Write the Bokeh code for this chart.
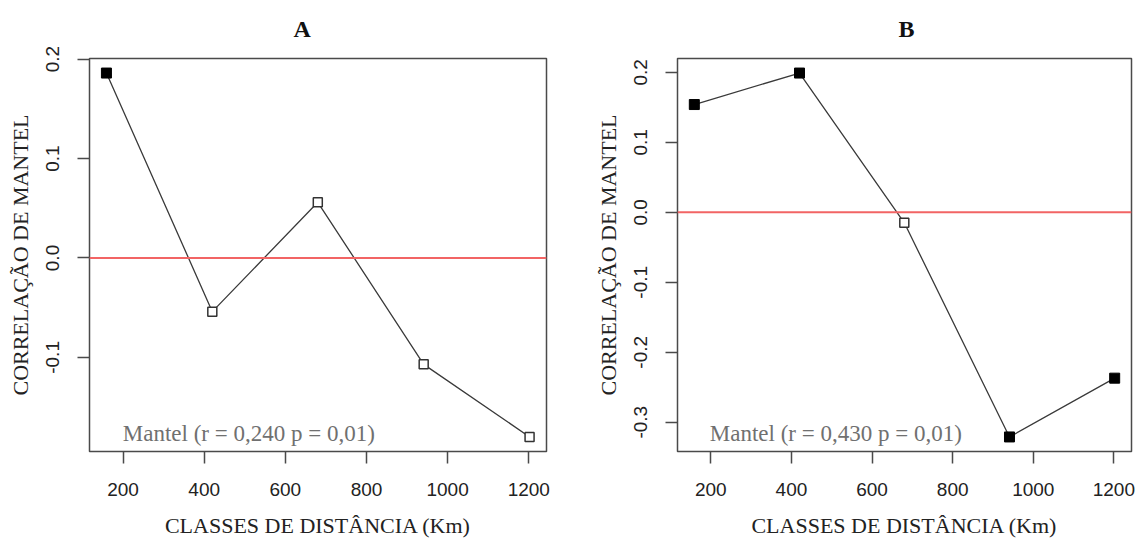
from bokeh.plotting import figure
from bokeh.layouts import row
from bokeh.models import Range1d, FixedTicker, Span, Label, PrintfTickFormatter
from bokeh.embed import file_html
from bokeh.resources import INLINE

# ---- data ----
dist = [159, 420, 680, 941, 1202]
corr_a = [0.186, -0.054, 0.056, -0.107, -0.180]
signif_a = [True, False, False, False, False]
corr_b = [0.154, 0.199, -0.015, -0.321, -0.237]
signif_b = [True, True, False, True, True]
x_ticks = [200, 400, 600, 800, 1000, 1200]
y_ticks_a = [-0.1, 0.0, 0.1, 0.2]
y_ticks_b = [-0.3, -0.2, -0.1, 0.0, 0.1, 0.2]
panel_titles = ["A", "B"]
notes = ["Mantel (r = 0,240 p = 0,01)", "Mantel (r = 0,430 p = 0,01)"]
x_label = "CLASSES DE DISTÂNCIA (Km)"
y_label = "CORRELAÇÃO DE MANTEL"

SERIF = "Liberation Serif"
SANS = "Liberation Sans"


def r_range(vals):
    lo, hi = min(vals), max(vals)
    ext = 0.04 * (hi - lo)
    return lo - ext, hi + ext


def panel(title, y, signif, y_ticks, note, borders, title_offset):
    x0, x1 = r_range(dist)
    y0, y1 = r_range(y)
    left, right, top, bottom = borders
    p = figure(width=569, height=540, x_range=Range1d(x0, x1), y_range=Range1d(y0, y1),
               output_backend="svg", toolbar_location=None,
               min_border_left=left, min_border_right=right,
               min_border_top=top, min_border_bottom=bottom)
    p.grid.visible = False
    p.outline_line_color = "#4a4a4a"
    p.outline_line_width = 1.5
    p.background_fill_color = "white"
    p.border_fill_color = "white"

    p.title.text = title
    p.title.text_font = SERIF
    p.title.text_font_style = "bold"
    p.title.text_font_size = "24px"
    p.title.align = "left"
    p.title.offset = title_offset
    p.title.text_color = "#111111"
    p.title.vertical_align = "top"
    p.title.standoff = 30

    p.xaxis.ticker = FixedTicker(ticks=x_ticks)
    p.yaxis.ticker = FixedTicker(ticks=y_ticks)
    p.yaxis.formatter = PrintfTickFormatter(format="%.1f")
    for ax in (p.xaxis, p.yaxis):
        ax.axis_line_color = None
        ax.major_tick_out = 12
        ax.major_tick_in = 0
        ax.minor_tick_out = 0
        ax.minor_tick_in = 0
        ax.major_tick_line_color = "#4a4a4a"
        ax.major_tick_line_width = 1.5
        ax.major_label_text_font = SANS
        ax.major_label_text_font_size = "19px"
        ax.major_label_text_color = "#222222"
        ax.axis_label_text_font = SERIF
        ax.axis_label_text_font_size = "22px"
        ax.axis_label_text_font_style = "normal"
        ax.axis_label_text_color = "#222222"
    p.xaxis.axis_label = x_label
    p.yaxis.axis_label = y_label
    p.yaxis.major_label_orientation = "vertical"
    p.xaxis.major_label_standoff = 19
    p.yaxis.major_label_standoff = 18
    p.xaxis.axis_label_standoff = 14
    p.yaxis.axis_label_standoff = 11

    p.add_layout(Span(location=0, dimension="width", line_color="#f26464", line_width=2))

    p.line(dist, y, line_color="#3a3a3a", line_width=1.3)
    xf = [d for d, s in zip(dist, signif) if s]
    yf = [v for v, s in zip(y, signif) if s]
    xo = [d for d, s in zip(dist, signif) if not s]
    yo = [v for v, s in zip(y, signif) if not s]
    p.scatter(xf, yf, marker="square", size=10, fill_color="black", line_color="black")
    p.scatter(xo, yo, marker="square", size=9, fill_color="white", line_color="#333333",
              line_width=1.5)

    p.add_layout(Label(x=510, y=y0 + 0.047 * (y1 - y0), text=note, text_align="center",
                       text_baseline="middle", text_font=SERIF, text_font_size="23px",
                       text_color="#707070"))
    return p


pa = panel(panel_titles[0], corr_a, signif_a, y_ticks_a, notes[0], (89, 23, 58, 88), 204)
pb = panel(panel_titles[1], corr_b, signif_b, y_ticks_b, notes[1], (108, 7, 58, 89), 221)

layout = row(pa, pb)
open("out.html", "w").write(file_html(layout, INLINE))
